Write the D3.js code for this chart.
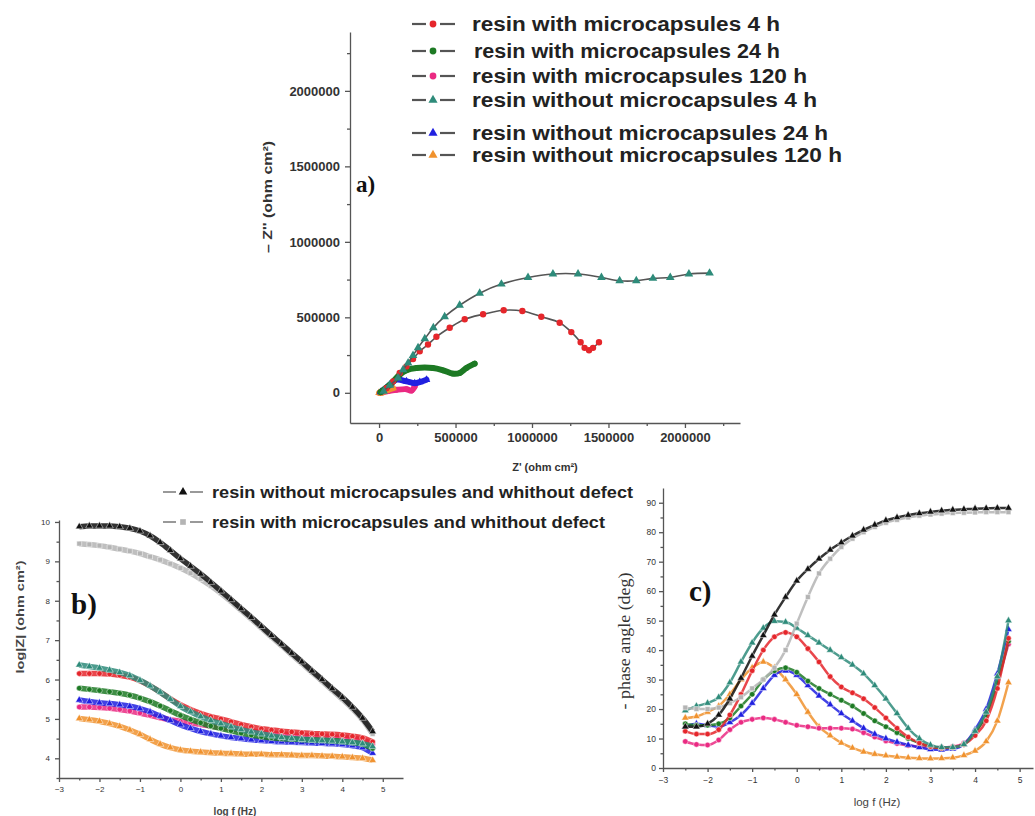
<!DOCTYPE html>
<html>
<head>
<meta charset="utf-8">
<script src="https://cdn.jsdelivr.net/npm/d3@7"></script>
<style>
  body { margin: 0; background: #fff; }
</style>
</head>
<body>
<script>
// ---------------- data ----------------
var seriesNames = [
    "resin with microcapsules 4 h",
    "resin with microcapsules 24 h",
    "resin with microcapsules 120 h",
    "resin without microcapsules 4 h",
    "resin without microcapsules 24 h",
    "resin without microcapsules 120 h"
];
var refNames = [
    "resin without microcapsules and whithout defect",
    "resin with microcapsules and whithout defect"
];

// a) Nyquist: Z' and -Z'' (ohm cm2)
var zreWith4 = [48000, 92000, 135000, 179000, 222000, 266000, 320000, 375000, 462000, 560000, 680000, 815000, 937000, 1061000, 1181000, 1257000, 1318000, 1344000, 1373000, 1399000, 1438000];
var zimWith4 = [31000, 76000, 131000, 175000, 224000, 275000, 320000, 371000, 431000, 487000, 520000, 547000, 542000, 504000, 464000, 402000, 335000, 298000, 282000, 298000, 335000];
var zreWith24 = [10000, 70000, 135000, 179000, 244000, 353000, 418000, 484000, 527000, 571000, 625000];
var zimWith24 = [5000, 53000, 120000, 149000, 164000, 164000, 149000, 127000, 131000, 164000, 193000];
var zreWith120 = [5000, 60000, 114000, 179000, 212000, 233000];
var zimWith120 = [0, 12000, 20000, 24000, 15000, 42000];
var zreWithout4 = [30000, 70000, 124000, 157000, 190000, 222000, 255000, 299000, 355000, 429000, 527000, 658000, 800000, 974000, 1137000, 1301000, 1454000, 1573000, 1682000, 1791000, 1904000, 2026000, 2161000];
var zimWithout4 = [10000, 50000, 98000, 153000, 198000, 247000, 298000, 358000, 431000, 504000, 580000, 660000, 720000, 764000, 787000, 787000, 764000, 742000, 742000, 758000, 764000, 787000, 793000];
var zreWithout24 = [10000, 70000, 114000, 179000, 233000, 266000, 310000];
var zimWithout24 = [5000, 53000, 87000, 76000, 64000, 71000, 87000];
var zreWithout120 = [0, 9000, 48000, 92000];
var zimWithout120 = [0, -2000, 15000, 31000];

// b) and c) Bode: log f (Hz)
var logF = [-2.5, -2.25, -2, -1.75, -1.5, -1.25, -1, -0.75, -0.5, -0.25, 0, 0.25, 0.5, 0.75, 1, 1.25, 1.5, 1.75, 2, 2.25, 2.5, 2.75, 3, 3.25, 3.5, 3.75, 4, 4.25, 4.5, 4.75];

// log|Z|
var modWith4 = [6.15, 6.15, 6.15, 6.14, 6.11, 6.06, 5.97, 5.84, 5.68, 5.51, 5.36, 5.24, 5.14, 5.06, 5.0, 4.93, 4.86, 4.8, 4.75, 4.72, 4.69, 4.67, 4.65, 4.63, 4.62, 4.61, 4.59, 4.56, 4.52, 4.42];
var modWith24 = [5.78, 5.75, 5.72, 5.69, 5.65, 5.6, 5.53, 5.44, 5.33, 5.21, 5.09, 4.99, 4.9, 4.82, 4.76, 4.7, 4.64, 4.59, 4.55, 4.52, 4.5, 4.49, 4.48, 4.47, 4.46, 4.45, 4.43, 4.4, 4.36, 4.25];
var modWith120 = [5.3, 5.3, 5.29, 5.27, 5.24, 5.2, 5.15, 5.09, 5.03, 4.98, 4.94, 4.9, 4.86, 4.82, 4.78, 4.75, 4.72, 4.69, 4.66, 4.64, 4.62, 4.6, 4.58, 4.57, 4.56, 4.55, 4.53, 4.51, 4.47, 4.36];
var modWithout4 = [6.37, 6.33, 6.29, 6.24, 6.18, 6.1, 5.98, 5.84, 5.68, 5.5, 5.32, 5.18, 5.06, 4.96, 4.88, 4.8, 4.73, 4.67, 4.62, 4.57, 4.53, 4.5, 4.48, 4.46, 4.45, 4.44, 4.42, 4.4, 4.37, 4.3];
var modWithout24 = [5.48, 5.44, 5.41, 5.39, 5.36, 5.32, 5.26, 5.18, 5.07, 4.96, 4.85, 4.76, 4.68, 4.62, 4.57, 4.53, 4.5, 4.47, 4.45, 4.43, 4.42, 4.41, 4.4, 4.39, 4.38, 4.37, 4.35, 4.32, 4.27, 4.13];
var modWithout120 = [5.01, 4.98, 4.94, 4.88, 4.81, 4.72, 4.61, 4.48, 4.36, 4.27, 4.21, 4.18, 4.16, 4.14, 4.13, 4.12, 4.11, 4.1, 4.1, 4.09, 4.09, 4.08, 4.07, 4.07, 4.06, 4.05, 4.04, 4.02, 4.0, 3.95];
var modRefWithout = [9.88, 9.9, 9.9, 9.9, 9.88, 9.84, 9.77, 9.65, 9.48, 9.28, 9.07, 8.88, 8.68, 8.47, 8.25, 8.03, 7.8, 7.58, 7.35, 7.12, 6.9, 6.67, 6.45, 6.22, 6.0, 5.77, 5.55, 5.3, 5.02, 4.68];
var modRefWith = [9.45, 9.43, 9.4, 9.36, 9.31, 9.26, 9.2, 9.12, 9.04, 8.94, 8.83, 8.7, 8.55, 8.38, 8.19, 7.98, 7.76, 7.54, 7.31, 7.08, 6.86, 6.63, 6.41, 6.18, 5.96, 5.73, 5.5, 5.26, 4.98, 4.62];

// - phase angle (deg)
var phWith4 = [12.5, 11.5, 11.5, 13, 18, 25, 33, 40, 44.5, 46, 44.5, 40.5, 36, 31, 27.5, 25.5, 23.5, 20.5, 17, 13.5, 10.5, 8.5, 7.3, 6.8, 7, 8, 11, 16, 27, 44];
var phWith24 = [15, 14.5, 14.5, 15, 17, 21, 25, 30, 33, 34, 32.5, 29.5, 27, 25, 23, 21, 18.5, 16, 14, 12, 10, 8.5, 7.2, 6.8, 7, 8, 12, 18, 29, 43];
var phWith120 = [9, 8, 7.8, 9.5, 13, 15.5, 16.5, 17, 16.5, 15.5, 14.5, 14, 13.5, 13.5, 13.5, 13.2, 12, 10.5, 9.2, 8.3, 7.6, 7.2, 7, 7, 7.3, 8.5, 12, 18, 29, 42];
var phWithout4 = [19.5, 21, 22, 24, 29, 36, 42.5, 47.5, 49.8, 49.5, 47.5, 45, 42.5, 40, 37.5, 35, 32, 28, 23.5, 18.5, 13.5, 10, 7.8, 7, 7, 8, 12.5, 19, 31, 50];
var phWithout24 = [14, 15, 14.5, 14, 15.5, 18, 22, 27, 31.5, 33, 31.5, 28, 24.5, 21.5, 18.5, 16, 13.5, 11.5, 10, 8.8, 7.8, 7, 6.3, 6.2, 6.5, 8, 13, 20, 32, 47];
var phWithout120 = [17, 17.5, 19, 21, 25, 30, 34, 36, 34, 30, 25, 19, 14, 11, 8.5, 6.8, 5.5, 4.7, 4.2, 3.8, 3.5, 3.3, 3.2, 3.3, 3.5, 4.3, 5.8, 9, 16, 29];
var phRefWithout = [14, 14, 15, 18, 23.5, 30.5, 38, 45, 52, 58, 63.5, 67.5, 71, 74, 76.5, 78.8, 80.8, 82.5, 84, 85, 85.8, 86.4, 86.9, 87.3, 87.6, 87.8, 88, 88.1, 88.2, 88.2];
var phRefWith = [20.5, 20, 20, 20.5, 22, 24, 27, 30, 34, 40, 49, 58, 66, 71, 75, 77.8, 80, 81.8, 83.2, 84.2, 85, 85.6, 86, 86.3, 86.5, 86.6, 86.7, 86.8, 86.8, 86.8];

// tick values
var nyqTicks = [0, 500000, 1000000, 1500000, 2000000];
var nyqMinor = [250000, 750000, 1250000, 1750000, 2250000];
var logFTicks = [-3, -2, -1, 0, 1, 2, 3, 4, 5];
var logFMinor = [-2.5, -1.5, -0.5, 0.5, 1.5, 2.5, 3.5, 4.5];
var modTicks = [4, 5, 6, 7, 8, 9, 10];
var modMinor = [3.5, 4.5, 5.5, 6.5, 7.5, 8.5, 9.5];
var phTicks = [0, 10, 20, 30, 40, 50, 60, 70, 80, 90];
var phMinor = [5, 15, 25, 35, 45, 55, 65, 75, 85];

// ---------------- styles ----------------
var colors = ["#e5262b", "#1d7a24", "#ea2a82", "#2e8b7a", "#2020e0", "#f0922e"];
var refColors = ["#111111", "#b4b4b4"];
var symbols = [d3.symbolCircle, d3.symbolCircle, d3.symbolCircle, d3.symbolTriangle, d3.symbolTriangle, d3.symbolTriangle];

var svg = d3.select("body").append("svg")
    .attr("width", 1035)
    .attr("height", 816)
    .style("font-family", "'Liberation Sans', Arial, sans-serif");

function drawAxes(g, x, y, opt) {
    var ax = g.append("g").attr("transform", `translate(0,${y.range()[0]})`);
    ax.append("g").call(d3.axisBottom(x).tickValues(opt.xMinor).tickSize(opt.minor).tickFormat("").tickSizeOuter(0))
        .select(".domain").remove();
    ax.append("g").call(d3.axisBottom(x).tickValues(opt.xTicks).tickSize(opt.major).tickPadding(opt.xPad)
        .tickSizeOuter(0).tickFormat(opt.fmt));

    var ay = g.append("g").attr("transform", `translate(${x.range()[0]},0)`);
    ay.append("g").call(d3.axisLeft(y).tickValues(opt.yMinor).tickSize(opt.minor).tickFormat("").tickSizeOuter(0))
        .select(".domain").remove();
    ay.append("g").call(d3.axisLeft(y).tickValues(opt.yTicks).tickSize(opt.major).tickPadding(opt.yPad)
        .tickSizeOuter(0).tickFormat(opt.fmt));

    g.selectAll(".domain, .tick line").attr("stroke", "#555").attr("stroke-width", 1.3);
    g.selectAll(".tick text")
        .attr("fill", "#333")
        .style("font-size", opt.fontSize + "px")
        .style("font-weight", opt.bold ? "bold" : "normal")
        .style("font-family", "'Liberation Sans', Arial, sans-serif");
}

// ---------------- a) Nyquist ----------------
var xA = d3.scaleLinear().domain([-190000, 2360000]).range([350, 740]);
var yA = d3.scaleLinear().domain([-200000, 2390000]).range([423, 32]);
var gA = svg.append("g");
drawAxes(gA, xA, yA, {
    xTicks: nyqTicks, xMinor: nyqMinor, yTicks: nyqTicks, yMinor: nyqMinor,
    major: 5, minor: 3, xPad: 5, yPad: 5, fmt: d3.format("d"), fontSize: 13, bold: true
});

var nyq = [
    [zreWith4, zimWith4], [zreWith24, zimWith24], [zreWith120, zimWith120],
    [zreWithout4, zimWithout4], [zreWithout24, zimWithout24], [zreWithout120, zimWithout120]
];
var lineA = d3.line().x(d => xA(d[0])).y(d => yA(d[1])).curve(d3.curveCatmullRom);
// dense series first (thick), then the two big arcs on top
[2, 5, 4, 1, 0, 3].forEach(function (i) {
    var pts = nyq[i][0].map((v, k) => [v, nyq[i][1][k]]);
    var dense = (i !== 0 && i !== 3);
    gA.append("path")
        .attr("d", lineA(pts))
        .attr("fill", "none")
        .attr("stroke", dense ? colors[i] : "#555")
        .attr("stroke-width", dense ? 6 : 1.6)
        .attr("stroke-linejoin", "round")
        .attr("stroke-linecap", "round");
    gA.selectAll(null).data(pts).enter().append("path")
        .attr("transform", d => `translate(${xA(d[0])},${yA(d[1])})`)
        .attr("d", d3.symbol().type(symbols[i]).size(dense ? 26 : 32))
        .attr("fill", colors[i]);
});

// legend a
var legAY = [24, 51, 76, 100, 133, 155];
var legAX = [472, 474, 472, 472, 472, 472];
var legAEnd = [780, 780, 807, 817, 828, 842];
seriesNames.forEach(function (name, i) {
    var row = svg.append("g").attr("transform", `translate(0,${legAY[i]})`);
    row.append("line").attr("x1", 412).attr("x2", 426).attr("stroke", "#555").attr("stroke-width", 2.2);
    row.append("line").attr("x1", 440).attr("x2", 455).attr("stroke", "#555").attr("stroke-width", 2.2);
    row.append("path")
        .attr("transform", "translate(433,0)")
        .attr("d", d3.symbol().type(symbols[i]).size(36))
        .attr("fill", colors[i]);
    row.append("text")
        .attr("x", legAX[i]).attr("dy", "0.36em")
        .attr("textLength", legAEnd[i] - legAX[i])
        .attr("lengthAdjust", "spacingAndGlyphs")
        .style("font-size", "20px").style("font-weight", "bold").attr("fill", "#222")
        .text(name);
});

gA.append("text")
    .attr("transform", "translate(272,197) rotate(-90)")
    .attr("text-anchor", "middle")
    .attr("textLength", 112).attr("lengthAdjust", "spacingAndGlyphs")
    .style("font-size", "12.5px").style("font-weight", "bold").attr("fill", "#333")
    .text("\u2013 Z'' (ohm cm\u00b2)");
gA.append("text")
    .attr("x", 545).attr("y", 471)
    .attr("text-anchor", "middle")
    .style("font-size", "11px").style("font-weight", "bold").attr("fill", "#333")
    .text("Z' (ohm cm\u00b2)");
gA.append("text")
    .attr("x", 356).attr("y", 192)
    .style("font-family", "'Liberation Serif', 'Times New Roman', serif")
    .style("font-size", "23px").style("font-weight", "bold").attr("fill", "#111")
    .text("a)");

// ---------------- b) and c) Bode ----------------
var bodeMod = [modWith4, modWith24, modWith120, modWithout4, modWithout24, modWithout120];
var bodePh = [phWith4, phWith24, phWith120, phWithout4, phWithout24, phWithout120];
var refMod = [modRefWithout, modRefWith];
var refPh = [phRefWithout, phRefWith];
var refSymbols = [d3.symbolTriangle, d3.symbolSquare];

function drawBode(g, x, y, sets, width) {
    var line = d3.line().x((d, k) => x(logF[k])).y(d => y(d)).curve(d3.curveMonotoneX);
    sets.forEach(function (s) {
        g.append("path")
            .attr("d", line(s.vals))
            .attr("fill", "none")
            .attr("stroke", s.color)
            .attr("stroke-width", width)
            .attr("stroke-opacity", 0.85);
        g.selectAll(null).data(s.vals).enter().append("path")
            .attr("transform", (d, k) => `translate(${x(logF[k])},${y(d)})`)
            .attr("d", d3.symbol().type(s.sym).size(24))
            .attr("fill", s.color)
            .attr("stroke", "#fff").attr("stroke-width", 0.5);
    });
}

function makeSets(main, refs) {
    var out = [];
    [5, 2, 4, 1, 0, 3].forEach(i => out.push({vals: main[i], color: colors[i], sym: symbols[i]}));
    [1, 0].forEach(i => out.push({vals: refs[i], color: refColors[i], sym: refSymbols[i]}));
    return out;
}

var xB = d3.scaleLinear().domain([-3, 5.5]).range([59, 403]);
var yB = d3.scaleLinear().domain([3.5, 10.05]).range([778, 520]);
var gB = svg.append("g");
drawAxes(gB, xB, yB, {
    xTicks: logFTicks, xMinor: logFMinor, yTicks: modTicks, yMinor: modMinor,
    major: 4, minor: 2.5, xPad: 4, yPad: 5, fmt: d3.format("d"), fontSize: 8, bold: false
});
drawBode(gB, xB, yB, makeSets(bodeMod, refMod), 5.5);

gB.append("text")
    .attr("transform", "translate(24,617) rotate(-90)")
    .attr("text-anchor", "middle")
    .attr("textLength", 113).attr("lengthAdjust", "spacingAndGlyphs")
    .style("font-size", "11.5px").style("font-weight", "bold").attr("fill", "#444")
    .text("log|Z| (ohm cm\u00b2)");
gB.append("text")
    .attr("x", 235).attr("y", 815)
    .attr("text-anchor", "middle")
    .style("font-size", "10px").style("font-weight", "bold").attr("fill", "#444")
    .text("log f (Hz)");
gB.append("text")
    .attr("x", 71).attr("y", 614)
    .style("font-family", "'Liberation Serif', 'Times New Roman', serif")
    .style("font-size", "29px").style("font-weight", "bold").attr("fill", "#111")
    .text("b)");

var xC = d3.scaleLinear().domain([-3, 5.3]).range([663, 1033]);
var yC = d3.scaleLinear().domain([0, 95]).range([768, 488]);
var gC = svg.append("g");
drawAxes(gC, xC, yC, {
    xTicks: logFTicks, xMinor: logFMinor, yTicks: phTicks, yMinor: phMinor,
    major: 4, minor: 2.5, xPad: 5, yPad: 3, fmt: d3.format("d"), fontSize: 8.5, bold: false
});
drawBode(gC, xC, yC, makeSets(bodePh, refPh), 2.5);

gC.append("text")
    .attr("transform", "translate(630,641) rotate(-90)")
    .attr("text-anchor", "middle")
    .attr("textLength", 137).attr("lengthAdjust", "spacingAndGlyphs")
    .style("font-family", "'Liberation Serif', 'Times New Roman', serif")
    .style("font-size", "16px").attr("fill", "#333")
    .text("- phase angle (deg)");
gC.append("text")
    .attr("x", 877).attr("y", 806)
    .attr("text-anchor", "middle")
    .style("font-size", "11.5px").attr("fill", "#444")
    .text("log f  (Hz)");
gC.append("text")
    .attr("x", 689).attr("y", 601)
    .style("font-family", "'Liberation Serif', 'Times New Roman', serif")
    .style("font-size", "29px").style("font-weight", "bold").attr("fill", "#111")
    .text("c)");

// legend for the reference (no defect) curves
var legBY = [492, 522];
var legBEnd = [633, 605];
refNames.forEach(function (name, i) {
    var row = svg.append("g").attr("transform", `translate(0,${legBY[i]})`);
    row.append("line").attr("x1", 163).attr("x2", 176).attr("stroke", "#999").attr("stroke-width", 2);
    row.append("line").attr("x1", 190).attr("x2", 203).attr("stroke", "#999").attr("stroke-width", 2);
    row.append("path")
        .attr("transform", "translate(183,0)")
        .attr("d", d3.symbol().type(refSymbols[i]).size(32))
        .attr("fill", refColors[i]);
    row.append("text")
        .attr("x", 212).attr("dy", "0.36em")
        .attr("textLength", legBEnd[i] - 212)
        .attr("lengthAdjust", "spacingAndGlyphs")
        .style("font-size", "17px").style("font-weight", "bold").attr("fill", "#222")
        .text(name);
});
</script>
</body>
</html>
